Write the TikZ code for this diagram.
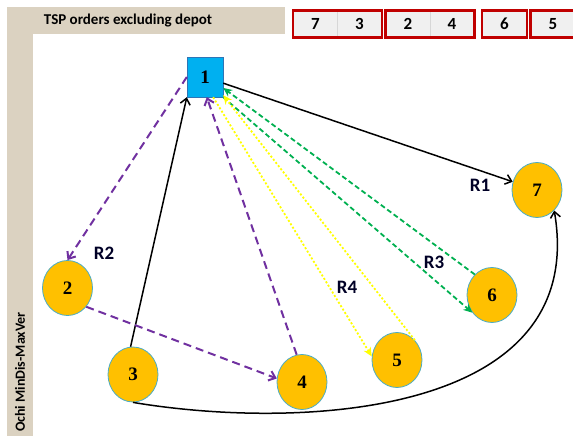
\documentclass[tikz,border=0pt]{standalone}
\usepackage{fontspec}
\setmainfont{Liberation Serif}
\newfontfamily\calibri{Carlito}
\usetikzlibrary{arrows.meta, shapes.geometric, fit}
\definecolor{sand}{RGB}{219,210,193}
\definecolor{depotblue}{RGB}{0,176,240}
\definecolor{depotedge}{RGB}{46,117,182}
\definecolor{custfill}{RGB}{255,192,0}
\definecolor{custedge}{RGB}{75,172,198}
\definecolor{cellgray}{RGB}{240,240,240}
\definecolor{cellline}{RGB}{215,215,215}
\definecolor{ordred}{RGB}{192,0,0}
\definecolor{routepurple}{RGB}{112,48,160}
\definecolor{routegreen}{RGB}{0,176,80}
\definecolor{routeyellow}{RGB}{255,255,0}

\begin{document}
\begin{tikzpicture}[x=1pt, y=-1pt,
  depot/.style={draw=depotedge, fill=depotblue, minimum width=36pt, minimum height=40pt, inner sep=0pt, font=\bfseries\fontsize{19}{19}\selectfont},
  cust/.style={ellipse, draw=custedge, line width=0.8pt, fill=custfill, minimum width=50pt, minimum height=55pt, inner sep=0pt, font=\bfseries\fontsize{19}{19}\selectfont},
  rlabel/.style={font=\calibri\bfseries\fontsize{19}{19}\selectfont, text=black!85!blue},
  cell/.style={fill=cellgray, draw=cellline, minimum width=44pt, minimum height=26pt, inner sep=0pt, font=\calibri\bfseries\fontsize{17}{17}\selectfont},
  grp/.style={draw=ordred, line width=2.5pt, inner sep=0.3pt},
  tour/.style={line width=1.5pt, -{Straight Barb[length=6pt, width=10pt]}},
  rtwo/.style={draw=routepurple, line width=2pt, dash pattern=on 8pt off 5pt, -{Straight Barb[length=6pt, width=10pt]}},
  rthree/.style={draw=routegreen, line width=1.8pt, dash pattern=on 5pt off 3pt, -{Stealth[length=9pt, width=8pt]}},
  rfour/.style={draw=routeyellow, line width=1.8pt, dash pattern=on 2pt off 2pt, -{Stealth[length=9pt, width=8pt]}}]
\useasboundingbox (0,0) rectangle (573,436);
\fill[sand] (7,7) rectangle (285,34);
\fill[sand] (7,7) rectangle (33,436);
\node[font=\calibri\bfseries\fontsize{15}{15}\selectfont] (title) at (128,21) {TSP orders excluding depot};
\node[rotate=90, font=\calibri\bfseries\fontsize{14}{14}\selectfont] (side) at (20,372) {Ochi MinDis-MaxVer};
% order of the customers
\node[cell] (c7) at (315.5,24) {7};
\node[cell] (c3) at (359.5,24) {3};
\node[cell] (c2) at (408,24) {2};
\node[cell] (c4) at (452,24) {4};
\node[cell] (c6) at (504.5,24) {6};
\node[cell] (c5) at (553,24) {5};
\node[grp, fit=(c7)(c3)] (g1) {};
\node[grp, fit=(c2)(c4)] (g2) {};
\node[grp, fit=(c6)] (g3) {};
\node[grp, fit=(c5)] (g4) {};
% depot and customers
\node[depot] (n1) at (205,77) {1};
\node[cust] (n2) at (67.5,288) {2};
\node[cust] (n3) at (133,374.5) {3};
\node[cust] (n4) at (302,382) {4};
\node[cust] (n5) at (397,360) {5};
\node[cust] (n6) at (492,295) {6};
\node[cust] (n7) at (537,190) {7};
\node[rlabel] (lr1) at (480,185) {R1};
\node[rlabel] (lr2) at (104,253) {R2};
\node[rlabel] (lr3) at (434,262) {R3};
\node[rlabel] (lr4) at (347,287) {R4};
% R1
\draw[tour] (n1) -- (n7);
\draw[tour] (n3.95) -- (n1.south west);
\draw[tour] (n3.south) .. controls +(167,28) and +(35,206) .. (n7.-50);
% R2
\draw[rtwo] (n1.west) -- (n2.north);
\draw[rtwo] (n2.-45) -- (n4.172);
\draw[rtwo] (n4.101) -- (n1.-85);
% R3
\draw[rthree] (n6.130) -- (n1.-31);
\draw[rthree] (n1.south east) -- (n6.-138);
% R4
\draw[rfour] (n1.-68) -- (n5.172);
\draw[rfour] (n5.48) -- (n1.-45);
\end{tikzpicture}
\end{document}
